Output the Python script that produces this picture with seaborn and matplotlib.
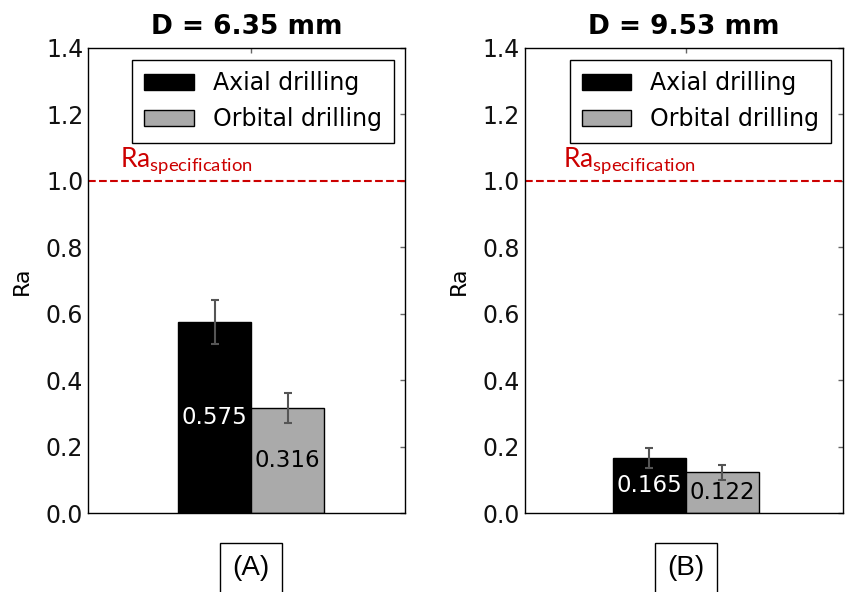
import pandas as pd
import matplotlib
matplotlib.use("Agg")
import matplotlib.pyplot as plt
import seaborn as sns

diameters = ["D = 6.35 mm", "D = 9.53 mm"]
panel_tags = ["(A)", "(B)"]
methods = ["Axial drilling", "Orbital drilling"]
ra_axial = [0.575, 0.165]
ra_orbital = [0.316, 0.122]
err_axial = [0.066, 0.030]
err_orbital = [0.044, 0.022]
ra_spec = 1.0

sns.set_theme(style="white")
plt.rcParams['font.family'] = ['DejaVu Sans']
plt.rcParams['text.color'] = 'black'
plt.rcParams['axes.labelcolor'] = 'black'
plt.rcParams['xtick.color'] = 'black'
plt.rcParams['ytick.color'] = 'black'

rows = []
for i, d in enumerate(diameters):
    rows.append({"D": d, "method": methods[0], "Ra": ra_axial[i], "err": err_axial[i]})
    rows.append({"D": d, "method": methods[1], "Ra": ra_orbital[i], "err": err_orbital[i]})
df = pd.DataFrame(rows)

fig = plt.figure(figsize=(8.48, 5.92), dpi=100)
ax_pos = [[0.104, 0.1334, 0.374, 0.786], [0.619, 0.1334, 0.375, 0.786]]
xlims = [(-0.895, 0.845), (-0.88, 0.86)]
spec_x = [0.10, 0.12]
palette = {methods[0]: "black", methods[1]: "#aaaaaa"}

for i, d in enumerate(diameters):
    ax = fig.add_axes(ax_pos[i])
    sub = df[df["D"] == d]
    sns.barplot(data=sub, x="D", y="Ra", hue="method", hue_order=methods,
                palette=palette, edgecolor="black", linewidth=1,
                errorbar=None, width=0.8, ax=ax)
    # error bars and value labels from the bar patches
    for patch, (_, r), txtcol in zip(ax.patches[:2], sub.iterrows(), ["white", "black"]):
        xc = patch.get_x() + patch.get_width() / 2
        ax.errorbar(xc, r["Ra"], yerr=r["err"], fmt="none", ecolor="#555555",
                    elinewidth=1.5, capsize=3, capthick=1.5)
        ax.text(xc, r["Ra"] / 2, f"{r['Ra']:.3f}", color=txtcol, fontsize=16.5,
                ha="center", va="center")

    ax.axhline(ra_spec, color="#cc0000", linestyle="--", linewidth=1.5)
    ax.text(spec_x[i], ra_spec + 0.015, r"Ra$_{\mathregular{specification}}$", color="#cc0000",
            fontsize=19, family="Lato", transform=ax.get_yaxis_transform(), va="bottom")

    ax.set_ylim(0, 1.4)
    ax.set_xlim(*xlims[i])
    ax.set_yticks([0.0, 0.2, 0.4, 0.6, 0.8, 1.0, 1.2, 1.4])
    ax.set_yticklabels([f"{v:.1f}" for v in ax.get_yticks()])
    ax.set_xticks([0])
    ax.tick_params(axis="both", direction="in", top=True, right=True,
                   labelbottom=False, labelsize=17, length=3.5, width=1,
                   color="#666666", labelcolor="#111111")
    ax.set_xlabel("")
    ax.set_ylabel("Ra", fontsize=16, labelpad=10)
    ax.set_title(d, fontsize=19, fontweight="bold", pad=10)
    for s in ax.spines.values():
        s.set_color("black")
        s.set_linewidth(1)

    leg = ax.legend(loc="upper right", fontsize=17, frameon=True, fancybox=False,
                    edgecolor="black", handlelength=2.1, handleheight=0.7,
                    borderpad=0.5, labelspacing=0.5, handletextpad=0.8)
    leg.get_frame().set_linewidth(1)
    leg.get_frame().set_alpha(1)

    xc = ax_pos[i][0] + ax_pos[i][2] * (0 - xlims[i][0]) / (xlims[i][1] - xlims[i][0])
    fig.text(xc, 0.040, panel_tags[i], fontsize=20, family="Liberation Sans",
             ha="center", va="center",
             bbox=dict(boxstyle="square,pad=0.45", facecolor="white", edgecolor="black", linewidth=1))

fig.savefig("out.png", dpi=100, facecolor="white")
